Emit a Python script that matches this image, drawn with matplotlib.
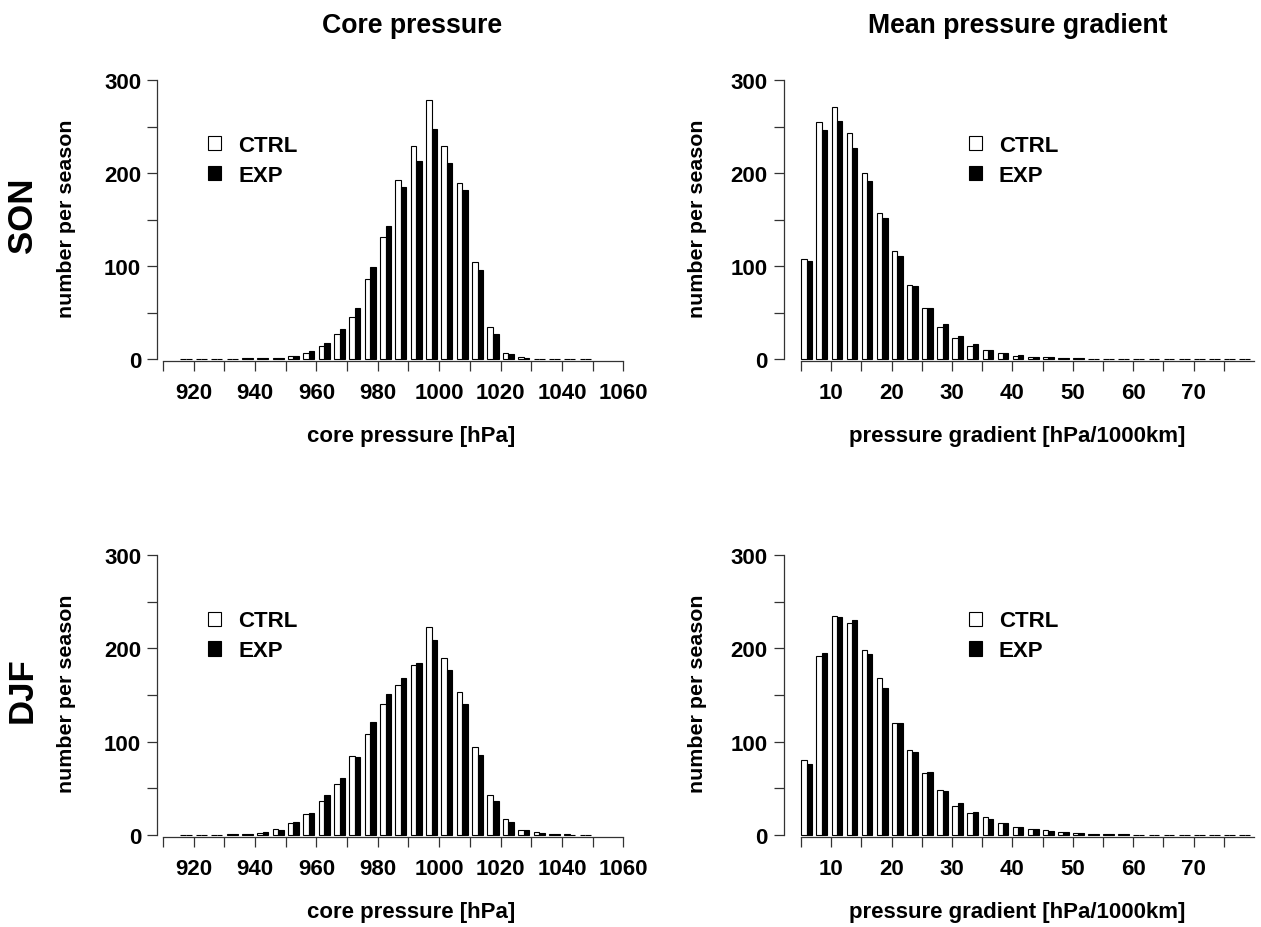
import matplotlib
matplotlib.use('Agg')
import matplotlib.pyplot as plt
from matplotlib.patches import Patch

# Data (bin start values and counts per season)
core_bins = [915, 920, 925, 930, 935, 940, 945, 950, 955, 960, 965, 970, 975, 980,
             985, 990, 995, 1000, 1005, 1010, 1015, 1020, 1025, 1030, 1035, 1040, 1045]
grad_bins = [5, 7.5, 10, 12.5, 15, 17.5, 20, 22.5, 25, 27.5, 30, 32.5, 35, 37.5, 40,
             42.5, 45, 47.5, 50, 52.5, 55, 57.5, 60, 62.5, 65, 67.5, 70, 72.5, 75, 77.5]

son_core_ctrl = [0.5, 0.5, 0.5, 0.5, 0.7, 1, 1, 3.5, 6.4, 13.6, 27, 45, 85.6, 130.7, 192,
                 229, 278.5, 229, 189, 104.5, 34, 6.4, 2, 0.5, 0.3, 0.3, 0.3]
son_core_exp = [0.5, 0.5, 0.5, 0.5, 0.8, 1, 1.5, 3.5, 9, 17, 32, 55, 98.5, 142.5, 184.7,
                213.4, 247.8, 211, 181.5, 95.6, 26.5, 5, 1.5, 0.5, 0.3, 0.3, 0.3]
djf_core_ctrl = [0.4, 0.4, 0.5, 0.7, 1, 2, 6, 12.8, 22, 36, 54.6, 84.6, 108, 140, 160.5,
                 182.3, 222.6, 189.3, 152.9, 93.8, 42.8, 17, 5.7, 3.6, 1.2, 0.7, 0.4]
djf_core_exp = [0.4, 0.4, 0.5, 0.7, 1.2, 3, 5, 14.3, 24, 42.5, 60.6, 83.8, 120.6, 151, 167.7,
                184.8, 208.7, 176.6, 140.6, 86, 36, 14.3, 5, 2, 1, 0.5, 0.3]

son_grad_ctrl = [108, 255, 271, 243.5, 200, 157, 116.4, 80, 54.4, 34.4, 22.2, 14.3, 9.7, 6.4, 3.6,
                 2.2, 1.8, 1.2, 0.8, 0.5, 0.5, 0.4, 0.4, 0.3, 0.3, 0.3, 0.3, 0.2, 0.2, 0.2]
son_grad_exp = [105.6, 246.7, 256, 227, 191.5, 151.8, 111, 78.4, 54.4, 37.6, 25, 15.8, 9.3, 6.4, 4.3,
                2.2, 1.8, 1, 0.8, 0.5, 0.5, 0.4, 0.4, 0.3, 0.3, 0.3, 0.3, 0.2, 0.2, 0.2]
djf_grad_ctrl = [80.3, 192, 234.7, 227.6, 198.4, 167.7, 120.2, 90.6, 66.4, 48.2, 31, 23.5, 18.9, 12.8, 8.6,
                 6.4, 5, 3.6, 2.2, 1.5, 1.2, 0.6, 0.5, 0.4, 0.4, 0.3, 0.3, 0.3, 0.3, 0.3]
djf_grad_exp = [76, 195.5, 233.7, 230.5, 193.7, 157, 120.2, 88.5, 67.4, 47, 34.2, 25, 17, 12.8, 8.6,
                6.4, 4.6, 3.2, 2, 1.4, 1, 0.6, 0.5, 0.4, 0.4, 0.3, 0.3, 0.3, 0.3, 0.3]

core_ticks = [910, 920, 930, 940, 950, 960, 970, 980, 990, 1000, 1010, 1020, 1030, 1040, 1050, 1060]
core_labels = ['', '920', '', '940', '', '960', '', '980', '', '1000', '', '1020', '', '1040', '', '1060']
grad_ticks = [5, 10, 15, 20, 25, 30, 35, 40, 45, 50, 55, 60, 65, 70, 75]
grad_labels = ['', '10', '', '20', '', '30', '', '40', '', '50', '', '60', '', '70', '']
y_ticks = [0, 50, 100, 150, 200, 250, 300]
y_labels = ['0', '', '100', '', '200', '', '300']

FONT = ['Liberation Sans', 'DejaVu Sans']
W, H = 1261, 928
fig = plt.figure(figsize=(W / 100, H / 100), dpi=100)


def px_axes(left, right, top, bottom):
    return fig.add_axes([left / W, 1 - bottom / H, (right - left) / W, (bottom - top) / H])


def draw_panel(ax, bins, ctrl, exp, off, bw, xlim, xbounds, xticks, xlabels, leg_x):
    xs = [b + off for b in bins]
    ax.bar(xs, ctrl, width=bw, align='edge', facecolor='white', edgecolor='black',
           linewidth=0.8, clip_on=False)
    ax.bar([x + bw for x in xs], exp, width=bw, align='edge', facecolor='black',
           edgecolor='black', linewidth=0.8, clip_on=False)
    ax.set_xlim(*xlim)
    ax.set_ylim(0, 300)
    for s in ['top', 'right']:
        ax.spines[s].set_visible(False)
    ax.spines['bottom'].set_position(('outward', 1.5))
    ax.spines['bottom'].set_bounds(*xbounds)
    ax.spines['left'].set_bounds(0, 300)
    for s in ['bottom', 'left']:
        ax.spines[s].set_linewidth(0.9)
        ax.spines[s].set_color('#333333')
    ax.set_xticks(xticks)
    ax.set_xticklabels(xlabels, family=FONT, fontweight='bold', fontsize=16)
    ax.set_yticks(y_ticks)
    ax.set_yticklabels(y_labels, family=FONT, fontweight='bold', fontsize=16)
    ax.tick_params(axis='both', direction='out', length=7.4, width=0.9, color='#333333')
    ax.tick_params(axis='x', pad=8)
    ax.tick_params(axis='y', pad=4)
    handles = [Patch(facecolor='white', edgecolor='black', linewidth=0.8),
               Patch(facecolor='black', edgecolor='black', linewidth=0.8)]
    ax.legend(handles, ['CTRL', 'EXP'], loc='center left', bbox_to_anchor=(leg_x, 0.711),
              frameon=False, handlelength=0.6, handleheight=0.6, handletextpad=0.75,
              labelspacing=0.4, borderpad=0, borderaxespad=0,
              prop={'family': FONT, 'weight': 'bold', 'size': 16})


rows = [(81, 360, 'SON', son_core_ctrl, son_core_exp, son_grad_ctrl, son_grad_exp),
        (556, 836, 'DJF', djf_core_ctrl, djf_core_exp, djf_grad_ctrl, djf_grad_exp)]

for top, bottom, season, cc, ce, gc, ge in rows:
    ax1 = px_axes(157, 626.4, top, bottom)
    draw_panel(ax1, core_bins, cc, ce, 0.75, 1.8, (908.1, 1061), (910, 1060),
               core_ticks, core_labels, 0.109)

    ax2 = px_axes(783.5, 1257.6, top, bottom)
    draw_panel(ax2, grad_bins, gc, ge, 0.05, 0.89, (2.1, 80.6), (5, 80),
               grad_ticks, grad_labels, 0.391)

    mid = (top + bottom) / 2
    for xpos in (66.5, 697.5):
        fig.text(xpos / W, 1 - (mid - 2) / H, 'number per season', rotation=90, ha='center',
                 va='center', family=FONT, fontweight='bold', fontsize=15.4)
    fig.text(22.5 / W, 1 - (mid - 5.5) / H, season, rotation=90, ha='center', va='center',
             family=FONT, fontweight='bold', fontsize=25)
    fig.text(411 / W, 1 - (bottom + 81.7) / H, 'core pressure [hPa]', ha='center',
             va='baseline', family=FONT, fontweight='bold', fontsize=16)
    fig.text(1017 / W, 1 - (bottom + 81.7) / H, 'pressure gradient [hPa/1000km]', ha='center',
             va='baseline', family=FONT, fontweight='bold', fontsize=16)

fig.text(411.7 / W, 1 - 33 / H, 'Core pressure', ha='center', va='baseline',
         family=FONT, fontweight='bold', fontsize=19.2)
fig.text(1018 / W, 1 - 33 / H, 'Mean pressure gradient', ha='center', va='baseline',
         family=FONT, fontweight='bold', fontsize=19.2)

fig.savefig('out.png', dpi=100, facecolor='white')
